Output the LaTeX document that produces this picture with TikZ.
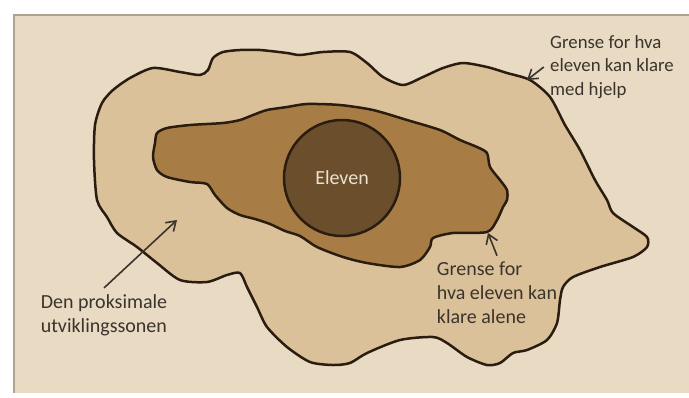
\documentclass[tikz,border=0pt]{standalone}
\usepackage{fontspec}
\setmainfont{Carlito}
\usetikzlibrary{positioning,arrows.meta,calc}
\definecolor{paper}{HTML}{E8DAC3}
\definecolor{zpd}{HTML}{DAC19A}
\definecolor{alone}{HTML}{A77D45}
\definecolor{pupil}{HTML}{6B4F2D}
\definecolor{ink}{HTML}{2A1D10}
\definecolor{txt}{HTML}{3B342C}

\begin{document}
\begin{tikzpicture}[x=0.5pt, y=-0.5pt, font=\normalsize,
          edge/.style={draw=ink, line width=1.25pt, line join=round},
          lbl/.style={text=txt, align=left, inner sep=3pt},
          ptr/.style={->, >={Straight Barb[length=4.5pt,width=6pt]}, draw=txt, line width=0.8pt}]
        \useasboundingbox (0,0) rectangle (689,397);
        % paper
        \fill[paper] (14,15) rectangle (689,393);
        \draw[draw=paper!70!ink, line width=0.6pt] (14,393) -- (14,15) -- (689,15);
        % outer boundary (with help)
        \path[edge, fill=zpd] plot[smooth cycle, tension=0.45] coordinates {
          (95,125) (102,103) (113,90) (130,78) (153,68) (180,72) (200,75) (208,70)
          (213,58) (223,52) (240,50) (260,50) (287,53) (300,55) (323,52) (350,52)
          (367,63) (383,77) (403,85) (423,77) (443,68) (463,63) (487,67) (507,73)
          (530,80) (550,97) (565,125) (580,150) (595,180) (607,200) (613,213)
          (633,227) (647,237) (647,247) (633,257) (600,267) (573,277) (563,287)
          (560,300) (557,323) (547,340) (527,350) (513,353) (500,363) (487,365)
          (467,357) (447,343) (433,337) (400,340) (367,353) (350,363) (333,365)
          (310,362) (287,347) (267,327) (257,307) (247,287) (240,273) (227,275)
          (207,282) (180,280) (157,263) (137,247) (117,233) (107,217) (97,200) (94,160)};
        % inner boundary (alone)
        \path[edge, fill=alone] plot[smooth cycle, tension=0.45] coordinates {
          (155,143) (157,133) (167,128) (190,125) (223,123) (240,120) (253,115)
          (267,110) (287,107) (307,104) (340,105) (373,110) (407,120) (440,130)
          (460,140) (477,147) (487,153) (490,167) (500,180) (507,190) (507,200)
          (503,207) (497,220) (487,232) (453,233) (433,238) (430,247) (420,260)
          (400,267) (367,263) (343,257) (317,247) (300,236) (285,231) (270,224)
          (255,219) (240,215) (227,208) (215,195) (207,184) (190,182) (167,177)
          (157,170) (153,157)};
        % the pupil
        \node[edge, fill=pupil, circle, minimum size=58pt, inner sep=0pt,
              text=paper!80!white] (pupil) at (342,178) {Eleven};
        % labels
        \node[lbl] (prox) at (104,315) {Den proksimale\\utviklingssonen};
        \node[lbl, font=\fontsize{9.4}{11.6}\selectfont] (help) at (612,67)
             {Grense for hva\\eleven kan klare\\med hjelp};
        \node[lbl] (self) at (497,293) {Grense for\\hva eleven kan\\klare alene};
        % pointers
        \coordinate (zone) at (177,220);
        \coordinate (outer) at (527,80);
        \coordinate (inner) at (488,233);
        \draw[ptr] (prox.north) -- (zone);
        \draw[ptr] (help.west) -- (outer);
        \draw[ptr] (self.north) -- (inner);
      \end{tikzpicture}
\end{document}
